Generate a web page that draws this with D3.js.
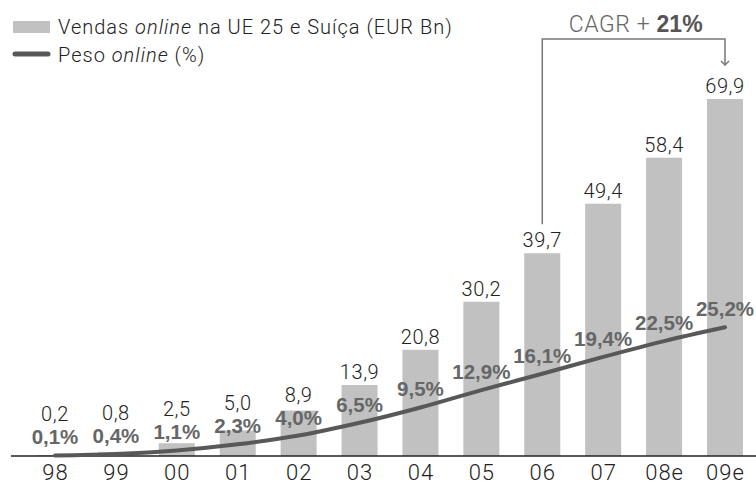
<!DOCTYPE html>
<html>
<head>
<meta charset="utf-8">
<script src="https://cdn.jsdelivr.net/npm/d3@7"></script>
<style>
  html, body { margin: 0; padding: 0; background: #fff; }
  svg { display: block; }
</style>
</head>
<body>
<svg id="chart" width="756" height="487"></svg>
<script>
const categories = ["98", "99", "00", "01", "02", "03", "04", "05", "06", "07", "08e", "09e"];
const sales = [0.2, 0.8, 2.5, 5.0, 8.9, 13.9, 20.8, 30.2, 39.7, 49.4, 58.4, 69.9];
const share = [0.1, 0.4, 1.1, 2.3, 4.0, 6.5, 9.5, 12.9, 16.1, 19.4, 22.5, 25.2];
const cagrLabel = ["CAGR + ", "21%"];
const cagrFrom = "06", cagrTo = "09e";

const fmt = v => v.toFixed(1).replace(".", ",");

const svg = d3.select("#chart");
const W = 756, H = 487;
const baseY = 456;

const x = d3.scalePoint().domain(categories).range([55, 725]);
const barW = 36;
const y = d3.scaleLinear().domain([0, 70]).range([baseY, 98.5]);
const yp = d3.scaleLinear().domain([0, 70]).range([baseY, 98.5]);

const barColor = "#c1c1c1";
const lineColor = "#585858";
const lightFont = "Roboto, 'Liberation Sans', sans-serif";
const boldFont = "'Liberation Sans', Arial, sans-serif";

// bars
svg.append("g").selectAll("rect").data(sales).join("rect")
  .attr("x", (d, i) => x(categories[i]) - barW / 2)
  .attr("y", d => y(d))
  .attr("width", barW)
  .attr("height", d => baseY - y(d))
  .attr("fill", barColor);

// axis
const axis = d3.axisBottom(x).tickSize(0).tickPadding(8);
const gAxis = svg.append("g").attr("transform", `translate(0,${baseY})`).call(axis);
gAxis.select(".domain").remove();
gAxis.selectAll("text")
  .style("font-family", lightFont).style("font-size", "22px").style("font-weight", 300)
  .style("letter-spacing", "1px").attr("fill", "#222");
svg.append("line").attr("x1", 11).attr("x2", W).attr("y1", baseY).attr("y2", baseY)
  .attr("stroke", "#222").attr("stroke-width", 1.5);

// line
const lineGen = d3.line()
  .x((d, i) => x(categories[i]))
  .y(d => yp(d))
  .curve(d3.curveMonotoneX);
svg.append("path").datum(share)
  .attr("d", lineGen)
  .attr("fill", "none")
  .attr("stroke", lineColor)
  .attr("stroke-width", 4)
  .attr("stroke-linecap", "round");

// pct labels
const pctY = share.map(p => yp(p) - 11);
svg.append("g").selectAll("text").data(share).join("text")
  .attr("x", (d, i) => x(categories[i]))
  .attr("y", (d, i) => pctY[i])
  .attr("text-anchor", "middle")
  .style("font-family", boldFont)
  .style("font-size", "20.5px")
  .style("font-weight", 700)
  .attr("fill", "#666")
  .text(d => fmt(d) + "%");

// value labels
svg.append("g").selectAll("text").data(sales).join("text")
  .attr("x", (d, i) => x(categories[i]))
  .attr("y", (d, i) => Math.min(y(d) - 6, pctY[i] - 23))
  .attr("text-anchor", "middle")
  .style("font-family", lightFont)
  .style("font-size", "20px")
  .style("font-weight", 300)
  .style("letter-spacing", "0.6px")
  .attr("fill", "#222")
  .text(d => fmt(d));

// legend
const lg = svg.append("g");
lg.append("rect").attr("x", 13).attr("y", 21).attr("width", 37).attr("height", 12).attr("fill", barColor);
const t1 = lg.append("text").attr("x", 58).attr("y", 34)
  .style("font-family", lightFont).style("font-size", "20px").style("font-weight", 300)
  .style("letter-spacing", "1px").attr("fill", "#222");
t1.append("tspan").text("Vendas ");
t1.append("tspan").style("font-style", "italic").text("online");
t1.append("tspan").text(" na UE 25 e Suíça (EUR Bn)");
lg.append("line").attr("x1", 15).attr("x2", 48).attr("y1", 54).attr("y2", 54)
  .attr("stroke", lineColor).attr("stroke-width", 5).attr("stroke-linecap", "round");
const t2 = lg.append("text").attr("x", 58).attr("y", 62)
  .style("font-family", lightFont).style("font-size", "20px").style("font-weight", 300)
  .style("letter-spacing", "1px").attr("fill", "#222");
t2.append("tspan").text("Peso ");
t2.append("tspan").style("font-style", "italic").text("online");
t2.append("tspan").text(" (%)");

// CAGR bracket
const xa = x(cagrFrom), xb = x(cagrTo);
const iFrom = categories.indexOf(cagrFrom), iTo = categories.indexOf(cagrTo);
const topY = 39;
const ay = y(sales[iTo]) - 34;
svg.append("path")
  .attr("d", `M${xa},${y(sales[iFrom]) - 29}V${topY}H${xb}V${ay}`)
  .attr("fill", "none").attr("stroke", "#777").attr("stroke-width", 1.5);
svg.append("path")
  .attr("d", `M${xb - 4},${ay - 4}L${xb},${ay}L${xb + 4},${ay - 4}`)
  .attr("fill", "none").attr("stroke", "#777").attr("stroke-width", 1.5);
const ct = svg.append("text").attr("x", (xa + xb) / 2 + 2).attr("y", 32)
  .attr("text-anchor", "middle")
  .style("font-family", lightFont).style("font-size", "23px").style("font-weight", 300)
  .style("letter-spacing", "0.6px").attr("fill", "#666");
ct.append("tspan").text(cagrLabel[0]);
ct.append("tspan").style("font-family", boldFont).style("font-weight", 700)
  .style("letter-spacing", "0px").attr("fill", "#555").text(cagrLabel[1]);
</script>
</body>
</html>
